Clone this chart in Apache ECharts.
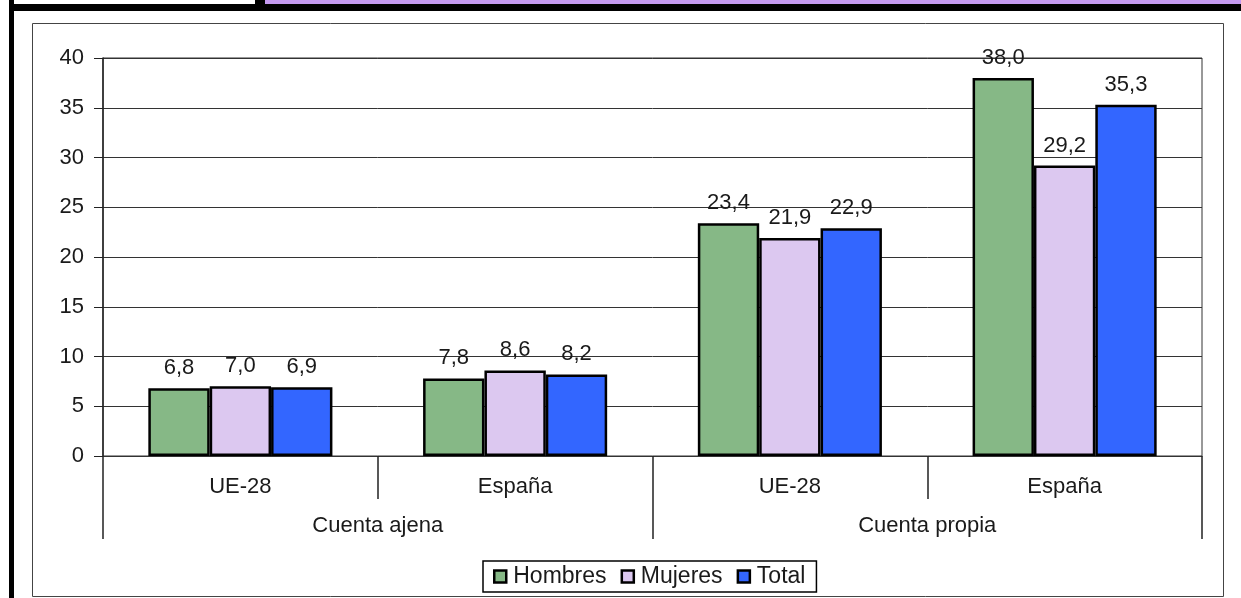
<!DOCTYPE html>
<html>
<head>
<meta charset="utf-8">
<script src="https://cdn.jsdelivr.net/npm/echarts@6/dist/echarts.min.js"></script>
<style>
html,body{margin:0;padding:0;background:#fff;}
#c{width:1241px;height:598px;}
</style>
</head>
<body>
<div id="c"></div>
<script>
const categories = ['UE-28', 'España', 'UE-28', 'España'];
const groups = ['Cuenta ajena', 'Cuenta propia'];
const hombres = [6.8, 7.8, 23.4, 38.0];
const mujeres = [7.0, 8.6, 21.9, 29.2];
const total = [6.9, 8.2, 22.9, 35.3];
const seriesNames = ['Hombres', 'Mujeres', 'Total'];
const colors = ['#86B886', '#DCC8F0', '#3366FF'];

const FONT = 'Liberation Sans';
const FS = 22;
const TXT = '#1a1a1a';

const chart = echarts.init(document.getElementById('c'), null, {renderer: 'canvas'});

function mk(name, data, color) {
  return {
    name: name,
    type: 'bar',
    xAxisIndex: 0,
    data: data,
    barGap: '0%',
    barCategoryGap: '33%',
    itemStyle: {color: color, borderColor: '#000', borderWidth: 2.5},
    label: {
      show: true,
      position: 'top',
      distance: 9,
      fontFamily: FONT,
      fontSize: FS,
      color: TXT,
      formatter: p => p.value.toFixed(1).replace('.', ',')
    }
  };
}

chart.setOption({
  animation: false,
  textStyle: {fontFamily: FONT},
  graphic: [
    {type: 'rect', shape: {x: 0, y: 0, width: 1241, height: 4}, style: {fill: '#fff'}, z: 100},
    {type: 'rect', shape: {x: 265, y: 0, width: 976, height: 4}, style: {fill: '#C59AF0'}, z: 100},
    {type: 'rect', shape: {x: 255, y: 0, width: 10, height: 11}, style: {fill: '#000'}, z: 100},
    {type: 'rect', shape: {x: 9, y: 4, width: 1232, height: 7}, style: {fill: '#000'}, z: 100},
    {type: 'rect', shape: {x: 9, y: 0, width: 5, height: 598}, style: {fill: '#000'}, z: 100},
    {type: 'rect', shape: {x: 32.5, y: 23.5, width: 1191, height: 573}, style: {fill: 'none', stroke: '#444', lineWidth: 1}, z: 100}
  ],
  grid: {
    left: 103, right: 39, top: 58, bottom: 142,
    show: true, borderColor: '#333', borderWidth: 1, backgroundColor: 'transparent'
  },
  legend: {
    data: seriesNames,
    left: 483, top: 561,
    itemWidth: 12, itemHeight: 12, itemGap: 14,
    icon: 'rect',
    padding: [4, 11, 4, 10],
    borderColor: '#000', borderWidth: 1.5,
    itemStyle: {borderColor: '#000', borderWidth: 2.5},
    textStyle: {fontFamily: FONT, fontSize: 23, color: TXT, padding: [0, 0, 0, 2]}
  },
  xAxis: [
    {
      type: 'category',
      data: categories,
      position: 'bottom',
      axisLine: {show: true, lineStyle: {color: '#333', width: 1}},
      axisTick: {show: true, length: 43, interval: 0, lineStyle: {color: '#222', width: 1.5}},
      axisLabel: {interval: 0, margin: 20, fontFamily: FONT, fontSize: FS, color: TXT}
    },
    {
      type: 'category',
      data: groups,
      position: 'bottom',
      axisLine: {show: false},
      axisTick: {show: true, length: 83, interval: 0, lineStyle: {color: '#222', width: 1.5}},
      axisLabel: {interval: 0, margin: 59, fontFamily: FONT, fontSize: FS, color: TXT}
    }
  ],
  yAxis: {
    type: 'value',
    min: 0, max: 40, interval: 5,
    axisLine: {show: true, lineStyle: {color: '#222', width: 1.5}},
    axisTick: {show: true, length: 9, lineStyle: {color: '#222'}},
    axisLabel: {margin: 19, fontFamily: FONT, fontSize: FS, color: TXT},
    splitLine: {show: true, lineStyle: {color: '#333', width: 1}}
  },
  series: [
    mk(seriesNames[0], hombres, colors[0]),
    mk(seriesNames[1], mujeres, colors[1]),
    mk(seriesNames[2], total, colors[2])
  ]
});
</script>
</body>
</html>
